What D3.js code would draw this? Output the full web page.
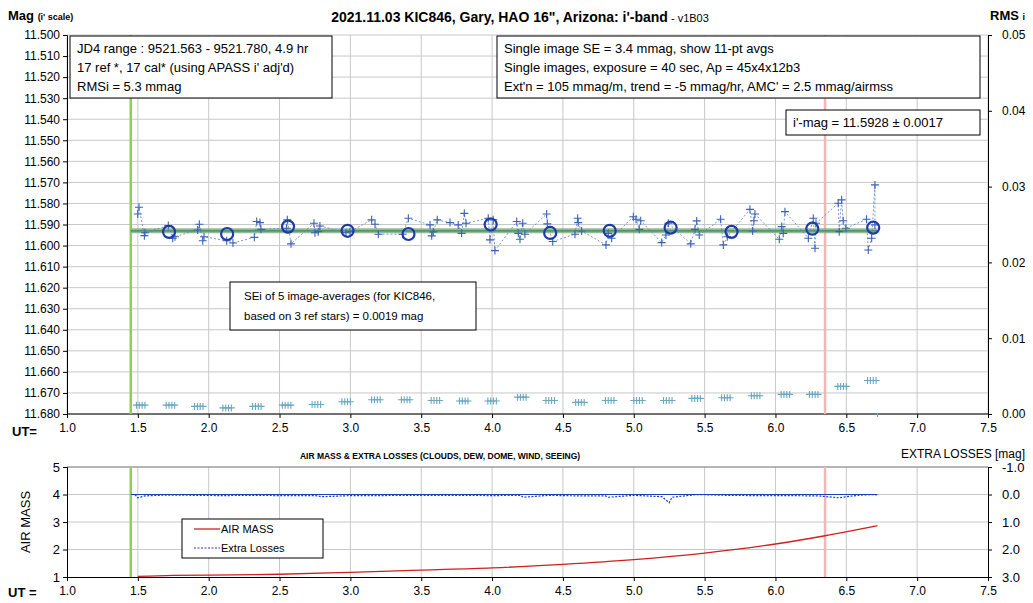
<!DOCTYPE html>
<html><head><meta charset="utf-8">
<script src="https://cdn.jsdelivr.net/npm/d3@7"></script>
<style>
 body{margin:0;background:#fff;font-family:"Liberation Sans",Arial,sans-serif;}
 svg text{font-family:"Liberation Sans",Arial,sans-serif;}
</style></head>
<body><svg id="svg1" width="1033" height="603"></svg>
<script>
"use strict";

// single image magnitudes: [UT, mag]
const imgUT  = [1.499,1.508,1.546,1.550,1.715,1.746,1.762,1.922,1.934,1.958,1.967,2.127,2.171,2.322,2.339,2.362,2.369,2.550,2.555,2.581,2.743,2.750,2.773,2.785,2.969,2.997,3.150,3.174,3.197,3.369,3.409,3.562,3.574,3.585,3.613,3.703,3.761,3.785,3.804,3.816,3.973,3.985,4.008,4.020,4.174,4.185,4.197,4.216,4.232,4.385,4.390,4.428,4.585,4.604,4.608,4.632,4.804,4.820,4.844,4.997,5.016,5.039,5.049,5.197,5.227,5.244,5.402,5.432,5.444,5.462,5.613,5.632,5.660,5.820,5.839,5.848,5.855,6.027,6.044,6.055,6.067,6.232,6.267,6.279,6.286,6.443,6.450,6.467,6.478,6.497,6.643,6.655,6.679,6.702,6.702];
const imgMag = [11.5850,11.5818,11.5953,11.5939,11.5905,11.5965,11.5958,11.5926,11.5899,11.5977,11.5958,11.5977,11.5988,11.5961,11.5886,11.5891,11.5923,11.5918,11.5878,11.5992,11.5894,11.5939,11.5934,11.5907,11.5939,11.5934,11.5878,11.5899,11.5946,11.5946,11.5870,11.5902,11.5954,11.5935,11.5878,11.5891,11.5902,11.5942,11.5847,11.5894,11.5870,11.5973,11.5878,11.6024,11.5886,11.5942,11.5970,11.5894,11.5946,11.5850,11.5897,11.5981,11.5946,11.5870,11.5891,11.5931,11.5997,11.5942,11.5965,11.5863,11.5875,11.5923,11.5882,11.5986,11.5950,11.5894,11.5992,11.5923,11.5883,11.5950,11.5875,11.5997,11.5958,11.5828,11.5931,11.5882,11.5850,11.5970,11.5910,11.5942,11.5839,11.5965,11.5870,11.6013,11.5894,11.5799,11.5934,11.5783,11.5882,11.5918,11.5875,11.6021,11.5965,11.5712,11.5902];

// 11-point averages
const avgUT  = [1.72,2.13,2.56,2.98,3.41,3.99,4.41,4.83,5.26,5.69,6.26,6.69];
const avgMag = [11.5935,11.5945,11.5910,11.5930,11.5945,11.5900,11.5940,11.5930,11.5915,11.5935,11.5920,11.5915];

// lower cyan series (plotted on mag scale), groups of images
const lowUT  = [1.52,1.73,1.93,2.13,2.34,2.55,2.76,2.97,3.18,3.39,3.60,3.80,4.00,4.21,4.41,4.62,4.83,5.03,5.24,5.44,5.65,5.86,6.07,6.27,6.47,6.68];
const lowMag = [11.6758,11.6758,11.6764,11.6771,11.6764,11.6758,11.6755,11.6742,11.6732,11.6732,11.6736,11.6738,11.6738,11.6720,11.6736,11.6745,11.6736,11.6736,11.6736,11.6726,11.6723,11.6713,11.6707,11.6707,11.6669,11.6641];

// air mass and extra losses
const amUT   = [1.50,1.75,2.00,2.50,3.00,3.50,4.00,4.50,5.00,5.50,6.00,6.35,6.72];
const amVal  = [1.02,1.06,1.07,1.10,1.17,1.25,1.33,1.46,1.63,1.87,2.20,2.50,2.87];
const elUT   = [1.48,1.50,1.55,1.70,1.90,2.10,2.30,2.50,2.75,2.80,3.00,3.20,3.40,3.60,3.80,4.00,4.20,4.22,4.40,4.60,4.80,4.82,5.00,5.20,5.25,5.27,5.45,5.65,5.85,6.05,6.30,6.45,6.50,6.60,6.70,6.72];
const elVal  = [0.00,0.12,0.05,0.02,0.03,0.04,0.03,0.04,0.04,0.08,0.04,0.04,0.03,0.03,0.03,0.04,0.03,0.10,0.03,0.05,0.05,0.10,0.03,0.08,0.30,0.10,0.00,0.03,0.04,0.04,0.05,0.12,0.08,0.02,0.00,0.02];

const leftTicks  = d3.range(11.50, 11.6801, 0.01);
const rightTicks = [0.00,0.01,0.02,0.03,0.04,0.05];
const utTicks    = d3.range(1.0, 7.51, 0.5);
const meanMag = 11.593, startUT = 1.45, endUT = 6.72, markUT = 6.35;

const svg = d3.select("#svg1");
const x  = d3.scaleLinear().domain([1.0, 7.5]).range([67, 988]);
const y  = d3.scaleLinear().domain([11.50, 11.68]).range([35, 414]);
const yR = d3.scaleLinear().domain([0, 0.05]).range([414, 35]);
const yA = d3.scaleLinear().domain([1, 5]).range([577, 467]);
const yE = d3.scaleLinear().domain([-1, 3]).range([467, 577]);
const grid = "#c8c8c8";
const fmt1 = d => d3.format(".1f")(d).replace("\u2212", "-");

// ---------- top panel ----------
svg.append("g").selectAll("line").data(leftTicks).join("line")
  .attr("x1", 67).attr("x2", 988).attr("y1", d => y(d)).attr("y2", d => y(d)).attr("stroke", grid);
svg.append("g").selectAll("line").data(utTicks).join("line")
  .attr("x1", d => x(d)).attr("x2", d => x(d)).attr("y1", 35).attr("y2", 414).attr("stroke", grid);

svg.append("g").attr("transform", "translate(67,0)")
  .call(d3.axisLeft(y).tickValues(leftTicks).tickFormat(d3.format(".3f")).tickSize(4))
  .call(g => g.selectAll("text").attr("font-size", 12).attr("fill", "#000"));
svg.append("g").attr("transform", "translate(988,0)")
  .call(d3.axisRight(yR).tickValues(rightTicks).tickFormat(d3.format(".2f")).tickSize(4))
  .call(g => g.selectAll("text").attr("font-size", 12).attr("fill", "#000").attr("x", 14));
svg.append("g").attr("transform", "translate(0,414)")
  .call(d3.axisBottom(x).tickValues(utTicks).tickFormat(fmt1).tickSize(4))
  .call(g => g.select(".domain").remove())
  .call(g => g.selectAll("text").attr("font-size", 12).attr("fill", "#000").attr("dy", "0.9em"));
svg.append("line").attr("x1", 67).attr("x2", 988).attr("y1", 414).attr("y2", 414).attr("stroke", "#000");

// vertical markers
[[startUT, "#92d050"], [markUT, "#f4b5b5"]].forEach(([u, c]) => {
  svg.append("line").attr("x1", x(u)).attr("x2", x(u)).attr("y1", 35).attr("y2", 414)
    .attr("stroke", c).attr("stroke-width", 2.5);
});

// mean line
svg.append("line").attr("x1", x(startUT)).attr("x2", x(endUT)).attr("y1", y(meanMag)).attr("y2", y(meanMag))
  .attr("stroke", "#7fb08a").attr("stroke-width", 5).attr("opacity", 0.85);
svg.append("line").attr("x1", x(startUT)).attr("x2", x(endUT)).attr("y1", y(meanMag)).attr("y2", y(meanMag))
  .attr("stroke", "#3f8a4f").attr("stroke-width", 1.2);

// single image points
const imgPts = imgUT.map((u, i) => [u, imgMag[i]]);
svg.append("path").datum(imgPts)
  .attr("d", d3.line().x(d => x(d[0])).y(d => y(d[1])))
  .attr("fill", "none").attr("stroke", "#5b7fc4").attr("stroke-width", 0.8).attr("stroke-dasharray", "2,2");
const plus = (g, pts, col, sz) => g.selectAll("path.p").data(pts).join("path")
  .attr("d", d => `M${x(d[0]) - sz},${y(d[1])}h${2 * sz}M${x(d[0])},${y(d[1]) - sz}v${2 * sz}`)
  .attr("stroke", col).attr("stroke-width", 1.1);
plus(svg.append("g"), imgPts, "#3a62b8", 4);

svg.append("g").selectAll("circle").data(avgUT).join("circle")
  .attr("cx", d => x(d)).attr("cy", (d, i) => y(avgMag[i])).attr("r", 6)
  .attr("fill", "none").attr("stroke", "#1d3aa8").attr("stroke-width", 2.2);

// lower cyan groups
const offs = [-0.03, -0.01, 0.01, 0.03];
const lowPts = lowUT.flatMap((u, i) => offs.map(o => [u + o, lowMag[i]]));
plus(svg.append("g"), lowPts, "#6aa8c0", 3.5);
svg.append("path").attr("d", `M${x(6.72)},${y(11.6795)}v4`).attr("stroke", "#6aa8c0").attr("stroke-width", 1.2);

// ---------- titles and boxes ----------
const t = (s, xx, yy, sz, o = {}) => svg.append("text").attr("x", xx).attr("y", yy).attr("font-size", sz)
  .attr("font-weight", o.bold ? "bold" : null).attr("text-anchor", o.anchor || "start").text(s);
const title = svg.append("text").attr("x", 520).attr("y", 22).attr("text-anchor", "middle");
title.append("tspan").attr("font-size", 14).attr("font-weight", "bold").text("2021.11.03 KIC846, Gary, HAO 16\", Arizona: i'-band");
title.append("tspan").attr("font-size", 11).text(" - v1B03");
const ml = svg.append("text").attr("x", 8).attr("y", 20).attr("font-weight", "bold");
ml.append("tspan").attr("font-size", 13).text("Mag ");
ml.append("tspan").attr("font-size", 9).text("(i' scale)");
const mr = svg.append("text").attr("x", 990).attr("y", 20).attr("font-weight", "bold");
mr.append("tspan").attr("font-size", 13).text("RMS ");
mr.append("tspan").attr("font-size", 9).text("i");
t("UT=", 12, 436, 13, {bold: true});
t("UT =", 8, 597, 13, {bold: true});
t("EXTRA LOSSES [mag]", 1025, 458, 12, {anchor: "end"});
t("AIR MASS & EXTRA LOSSES (CLOUDS, DEW, DOME, WIND, SEEING)", 440, 459, 8.5, {bold: true, anchor: "middle"});

const box = (bx, by, bw, bh, lines, sz, lh) => {
  svg.append("rect").attr("x", bx).attr("y", by).attr("width", bw).attr("height", bh)
    .attr("fill", "#fff").attr("stroke", "#000");
  lines.forEach((s, i) => t(s, bx + 7, by + 17 + i * lh, sz));
};
box(70, 36, 262, 62, ["JD4 range : 9521.563 - 9521.780, 4.9  hr", "17 ref *, 17 cal* (using APASS i' adj'd)", "RMSi = 5.3 mmag"], 13, 19);
box(497, 36, 483, 62, ["Single image SE = 3.4 mmag, show 11-pt avgs", "Single images, exposure = 40 sec, Ap = 45x4x12b3", "Ext'n = 105 mmag/m, trend = -5 mmag/hr, AMC' = 2.5 mmag/airmss"], 13, 19);
box(786, 110, 194, 25, ["i'-mag = 11.5928 ± 0.0017"], 13, 0);
svg.append("rect").attr("x", 230).attr("y", 282).attr("width", 246).attr("height", 48).attr("fill", "#fff").attr("stroke", "#000");
t("SEi of 5 image-averages (for KIC846,", 244, 300, 11.5);
t("based on 3 ref stars) = 0.0019 mag", 244, 320, 11.5);

// ---------- bottom panel ----------
svg.append("g").selectAll("line").data([2, 3, 4, 5]).join("line")
  .attr("x1", 67).attr("x2", 988).attr("y1", d => yA(d)).attr("y2", d => yA(d)).attr("stroke", grid);
svg.append("g").selectAll("line").data(utTicks.slice(1, -1)).join("line")
  .attr("x1", d => x(d)).attr("x2", d => x(d)).attr("y1", 467).attr("y2", 577).attr("stroke", grid);
svg.append("line").attr("x1", 67).attr("x2", 988).attr("y1", 467).attr("y2", 467).attr("stroke", "#888");
svg.append("g").attr("transform", "translate(67,0)")
  .call(d3.axisLeft(yA).tickValues([1, 2, 3, 4, 5]).tickFormat(d3.format("d")).tickSize(4))
  .call(g => g.selectAll("text").attr("font-size", 13).attr("fill", "#000"));
svg.append("g").attr("transform", "translate(988,0)")
  .call(d3.axisRight(yE).tickValues([-1, 0, 1, 2, 3]).tickFormat(fmt1).tickSize(4))
  .call(g => g.selectAll("text").attr("font-size", 13).attr("fill", "#000").attr("x", 14));
svg.append("g").attr("transform", "translate(0,577)")
  .call(d3.axisBottom(x).tickValues(utTicks).tickFormat(fmt1).tickSize(4))
  .call(g => g.selectAll("text").attr("font-size", 12).attr("fill", "#000").attr("dy", "0.9em"));
svg.append("text").attr("transform", "translate(30,522) rotate(-90)").attr("text-anchor", "middle")
  .attr("font-size", 13).text("AIR MASS");

[[startUT, "#92d050"], [markUT, "#f4b5b5"]].forEach(([u, c]) => {
  svg.append("line").attr("x1", x(u)).attr("x2", x(u)).attr("y1", 467).attr("y2", 577)
    .attr("stroke", c).attr("stroke-width", 2.5);
});

svg.append("line").attr("x1", x(startUT)).attr("x2", x(endUT)).attr("y1", yE(0)).attr("y2", yE(0))
  .attr("stroke", "#1f3fb8").attr("stroke-width", 1.2);
svg.append("path").datum(elUT.map((u, i) => [u, elVal[i]]))
  .attr("d", d3.line().x(d => x(d[0])).y(d => yE(d[1])))
  .attr("fill", "none").attr("stroke", "#1f3fb8").attr("stroke-width", 1.2).attr("stroke-dasharray", "2,1.5");
svg.append("path").datum(amUT.map((u, i) => [u, amVal[i]]))
  .attr("d", d3.line().curve(d3.curveMonotoneX).x(d => x(d[0])).y(d => yA(d[1])))
  .attr("fill", "none").attr("stroke", "#d02020").attr("stroke-width", 1.3);

// legend
svg.append("rect").attr("x", 182).attr("y", 519).attr("width", 141).attr("height", 39)
  .attr("fill", "#fff").attr("stroke", "#000");
svg.append("line").attr("x1", 194).attr("x2", 220).attr("y1", 529).attr("y2", 529).attr("stroke", "#d02020").attr("stroke-width", 1.3);
t("AIR MASS", 221, 533, 11);
svg.append("line").attr("x1", 194).attr("x2", 220).attr("y1", 548).attr("y2", 548).attr("stroke", "#1f3fb8").attr("stroke-dasharray", "2,1.5");
t("Extra Losses", 221, 552, 11);
</script></body></html>
